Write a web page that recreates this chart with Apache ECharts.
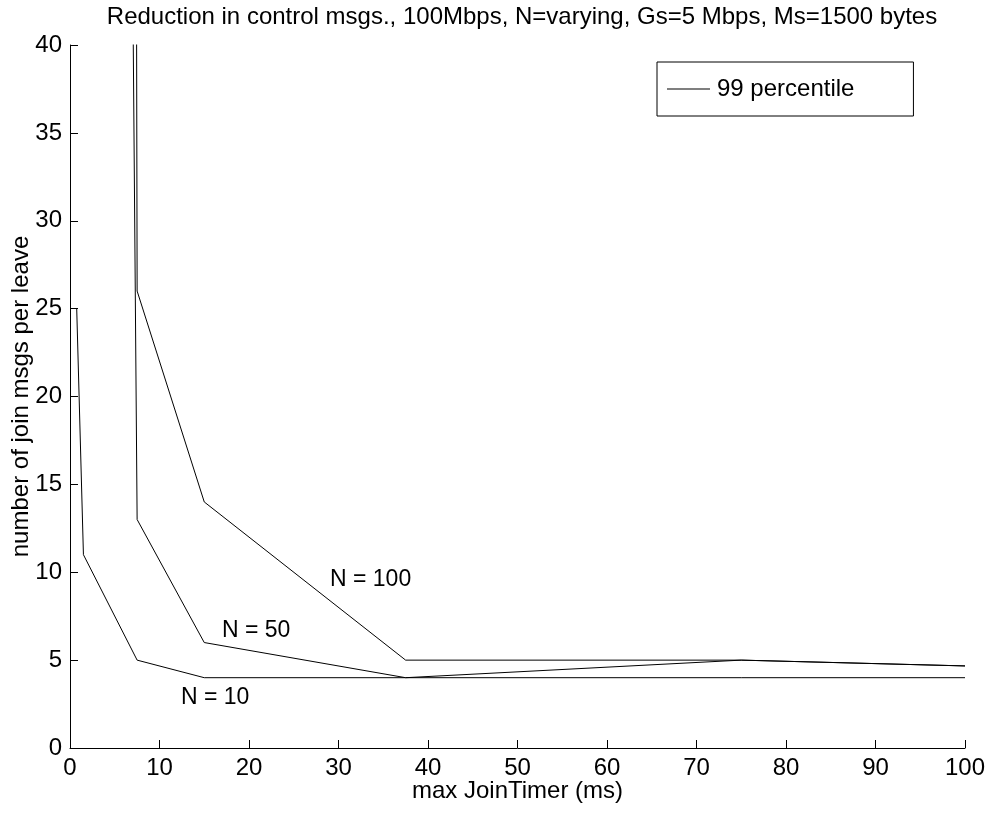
<!DOCTYPE html>
<html><head><meta charset="utf-8">
<script src="https://cdn.jsdelivr.net/npm/echarts@6/dist/echarts.min.js"></script>
<style>html,body{margin:0;padding:0;background:#fff}#c{width:990px;height:814px}</style>
</head><body><div id="c"></div>
<script>
const titleText = 'Reduction in control msgs., 100Mbps, N=varying, Gs=5 Mbps, Ms=1500 bytes';
const xLabel = 'max JoinTimer (ms)';
const yLabel = 'number of join msgs per leave';
const legendName = '99 percentile';
const n10 = [[0.75,25],[1.5,11],[7.5,5],[15,4],[37.5,4],[75,4],[100,4]];
const n50 = [[1.5,390],[7.5,13],[15,6],[37.5,4],[75,5],[100,4.67]];
const n100 = [[1.5,1500],[7.5,26],[15,14],[37.5,5],[75,5],[100,4.67]];
const curveLabels = ['N = 100','N = 50','N = 10'];

const F = 'Liberation Sans, Arial, Helvetica, sans-serif';
const FS = 24;
const chart = echarts.init(document.getElementById('c'));
const ls = {color:'#000', width:1};
chart.setOption({
  animation:false,
  backgroundColor:'#fff',
  title:{text:titleText, left:517, top:0, textAlign:'center',
    textStyle:{fontFamily:F, fontSize:FS, fontWeight:'normal', color:'#000'}},
  legend:{data:[{name:legendName, icon:'rect'}], left:657, top:62,
    orient:'vertical', padding:[15,59,15,10], itemWidth:43, itemHeight:1, itemGap:0,
    borderColor:'#000', borderWidth:1, borderRadius:0, backgroundColor:'#fff',
    textStyle:{fontFamily:F, fontSize:FS, color:'#000', padding:[0,0,0,2]}},
  grid:{left:70, right:25, top:45, bottom:66, containLabel:false, outerBoundsMode:'none'},
  xAxis:{type:'value', min:0, max:100, interval:10, name:xLabel, nameLocation:'middle', nameGap:31,
    nameMoveOverlap:false,
    nameTextStyle:{fontFamily:F, fontSize:FS, color:'#000'},
    axisLine:{lineStyle:{color:'#000', width:1}},
    axisTick:{inside:true, length:8, lineStyle:{color:'#000'}},
    axisLabel:{fontFamily:F, fontSize:FS, color:'#000', margin:8},
    splitLine:{show:false}},
  yAxis:{type:'value', min:0, max:40, interval:5, name:yLabel, nameLocation:'middle', nameGap:37,
    nameMoveOverlap:false,
    nameTextStyle:{fontFamily:F, fontSize:FS, color:'#000'},
    axisLine:{show:true, lineStyle:{color:'#000', width:1}},
    axisTick:{show:true, inside:true, length:8, lineStyle:{color:'#000'}},
    axisLabel:{fontFamily:F, fontSize:FS, color:'#000', margin:8},
    splitLine:{show:false}},
  series:[
    {name:legendName, type:'line', data:n10, showSymbol:false, symbol:'none', lineStyle:ls, itemStyle:{color:'#000'}, clip:true},
    {name:'N50', type:'line', data:n50, showSymbol:false, symbol:'none', lineStyle:ls, itemStyle:{color:'#000'}, clip:true},
    {name:'N100', type:'line', data:n100, showSymbol:false, symbol:'none', lineStyle:ls, itemStyle:{color:'#000'}, clip:true}
  ],
  graphic:[
    {type:'text', x:330, y:580, style:{text:curveLabels[0], font:'23px '+F, fill:'#000', verticalAlign:'middle'}},
    {type:'text', x:222, y:631, style:{text:curveLabels[1], font:'23px '+F, fill:'#000', verticalAlign:'middle'}},
    {type:'text', x:181, y:698, style:{text:curveLabels[2], font:'23px '+F, fill:'#000', verticalAlign:'middle'}}
  ]
});
</script></body></html>
